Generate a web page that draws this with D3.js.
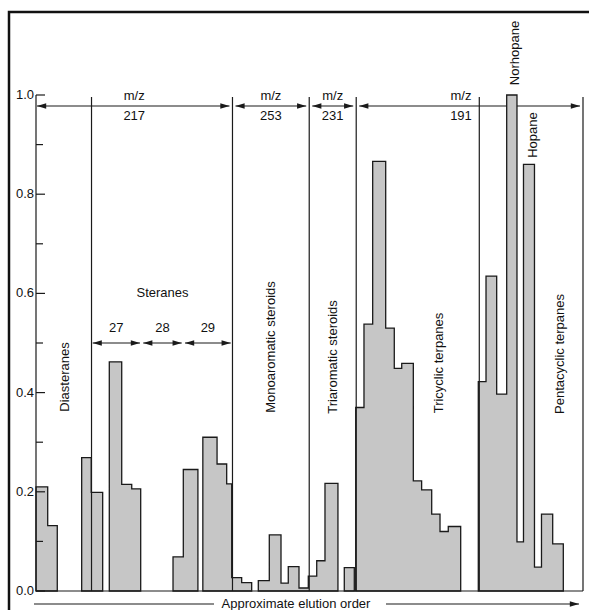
<!DOCTYPE html>
<html>
<head>
  <meta charset="utf-8" />
  <title>Biomarker elution order</title>
  <script src="https://d3js.org/d3.v7.min.js"></script>
  <style>
    body {
      margin: 0;
      background: #fff;
    }

    svg {
      display: block;
      font-family: "Liberation Sans", Arial, sans-serif;
    }

    .lbl {
      font-size: 13px;
      fill: #111;
    }

    .peak {
      fill: #c6c6c6;
      stroke: #1a1a1a;
      stroke-width: 1.3px;
    }

    .rule {
      stroke: #1a1a1a;
      stroke-width: 1.2px;
    }
  </style>
</head>
<body>

<svg width="589" height="610"></svg>

<script>
  // peaks along the elution axis (0 = first, 100 = last), relative abundance
  const peakLeft  = [0, 2.14, 8.35, 10.1, 13.4, 15.67, 17.5, 25.05, 26.93, 30.5, 33.1, 34.86,
                     35.78, 37.6, 40.64, 42.65, 44.79, 46.12, 48.08, 49.78, 51.32, 52.83, 56.36,
                     58.45, 59.96, 61.55, 63.93, 65.5, 66.86, 68.98, 70.5, 72.34, 73.86, 75.37,
                     80.86, 82.27, 84.22, 86.05, 87.93, 89.12, 91.13, 92.41, 94.46];
  const peakRight = [2.14, 3.89, 10.1, 12.19, 15.67, 17.5, 19.14, 26.93, 29.6, 33.1, 34.86, 35.78,
                     37.6, 39.43, 42.65, 44.79, 46.12, 48.08, 49.78, 51.32, 52.83, 55.2, 58.19,
                     59.96, 61.55, 63.93, 65.5, 66.86, 68.98, 70.5, 72.34, 73.86, 75.37, 77.64,
                     82.27, 84.22, 86.05, 87.93, 89.12, 91.13, 92.41, 94.46, 96.4];
  const peakValue = [0.21, 0.132, 0.269, 0.199, 0.462, 0.215, 0.206, 0.069, 0.245, 0.31, 0.256, 0.216,
                     0.027, 0.017, 0.021, 0.113, 0.016, 0.049, 0.006, 0.03, 0.061, 0.217, 0.047,
                     0.37, 0.538, 0.866, 0.53, 0.449, 0.459, 0.222, 0.204, 0.155, 0.12, 0.13,
                     0.422, 0.635, 0.397, 1.0, 0.099, 0.86, 0.048, 0.155, 0.095];

  const dividers = [10.15, 35.92, 49.95, 58.54, 81.04, 100];
  const mzStart  = [0, 35.92, 49.95, 58.54];
  const mzEnd    = [35.92, 49.95, 58.54, 100];
  const mzLabels = ["217", "253", "231", "191"];
  const carbonStart  = [10.36, 19.6, 27.24];
  const carbonEnd    = [19.01, 26.64, 35.6];
  const carbonLabels = ["27", "28", "29"];
  const yTicks = [0, 0.2, 0.4, 0.6, 0.8, 1.0];
  const yMinor = [0.1, 0.3, 0.5, 0.7, 0.9];

  const svg = d3.select("svg");
  const x = d3.scaleLinear().domain([0, 100]).range([36, 583]);
  const y = d3.scaleLinear().domain([0, 1]).range([591, 95]);

  const defs = svg.append("defs");
  defs.append("marker")
    .attr("id", "head")
    .attr("viewBox", "0 0 10 6")
    .attr("refX", 10).attr("refY", 3)
    .attr("markerWidth", 10).attr("markerHeight", 5.5)
    .attr("markerUnits", "userSpaceOnUse")
    .attr("orient", "auto-start-reverse")
    .append("path").attr("d", "M0,0 L10,3 L0,6 Z").attr("fill", "#1a1a1a");

  // frame
  svg.append("path")
    .attr("d", "M9,610 V12 H589")
    .attr("fill", "none").attr("stroke", "#111").attr("stroke-width", 2.5);

  // m/z arrows
  const mzY = 106;
  mzStart.forEach((s, i) => {
    svg.append("line").attr("class", "rule")
      .attr("x1", x(s) + (i ? 3 : 1)).attr("x2", x(mzEnd[i]) - 3)
      .attr("y1", mzY).attr("y2", mzY)
      .attr("marker-start", "url(#head)").attr("marker-end", "url(#head)");
    const cx = i === 3 ? 461 : (x(s) + x(mzEnd[i])) / 2;
    svg.append("text").attr("class", "lbl").attr("text-anchor", "middle")
      .attr("x", cx).attr("y", mzY - 6).text("m/z");
    svg.append("text").attr("class", "lbl").attr("text-anchor", "middle")
      .attr("x", cx).attr("y", mzY + 14).text(mzLabels[i]);
  });

  // sterane carbon number arrows
  const cY = 343;
  carbonStart.forEach((s, i) => {
    svg.append("line").attr("class", "rule")
      .attr("x1", x(s)).attr("x2", x(carbonEnd[i]))
      .attr("y1", cY).attr("y2", cY)
      .attr("marker-start", "url(#head)").attr("marker-end", "url(#head)");
    svg.append("text").attr("class", "lbl").attr("text-anchor", "middle")
      .attr("x", (x(s) + x(carbonEnd[i])) / 2).attr("y", cY - 11).text(carbonLabels[i]);
  });
  svg.append("text").attr("class", "lbl").attr("text-anchor", "middle")
    .attr("x", 162.5).attr("y", 297).text("Steranes");

  // group touching peaks into step outlines
  const runs = [];
  peakLeft.forEach((l, i) => {
    const p = { l, r: peakRight[i], v: peakValue[i] };
    const last = runs[runs.length - 1];
    if (last && Math.abs(last[last.length - 1].r - l) < 0.01) last.push(p);
    else runs.push([p]);
  });

  const line = d3.line().x(d => x(d[0])).y(d => y(d[1]));
  svg.selectAll(".peak")
    .data(runs)
    .join("path")
    .attr("class", "peak")
    .attr("d", run => {
      const pts = [[run[0].l, 0]];
      run.forEach(p => { pts.push([p.l, p.v]); pts.push([p.r, p.v]); });
      pts.push([run[run.length - 1].r, 0]);
      return line(pts) + "Z";
    });

  // vertical section dividers
  svg.selectAll(".div")
    .data(dividers)
    .join("line")
    .attr("class", "rule")
    .attr("x1", d => x(d)).attr("x2", d => x(d))
    .attr("y1", 97).attr("y2", y(0));

  // axes
  svg.append("line").attr("class", "rule")
    .attr("x1", x(0)).attr("x2", x(100)).attr("y1", y(0)).attr("y2", y(0));
  svg.append("line").attr("class", "rule")
    .attr("x1", x(0)).attr("x2", x(0)).attr("y1", y(1)).attr("y2", y(0));
  svg.selectAll(".tk")
    .data(yTicks)
    .join("line").attr("class", "rule")
    .attr("x1", x(0)).attr("x2", x(0) + 9)
    .attr("y1", d => y(d)).attr("y2", d => y(d));
  svg.selectAll(".mtk")
    .data(yMinor)
    .join("line").attr("class", "rule")
    .attr("x1", x(0)).attr("x2", x(0) + 7)
    .attr("y1", d => y(d)).attr("y2", d => y(d));
  svg.selectAll(".ytl")
    .data(yTicks)
    .join("text").attr("class", "lbl")
    .attr("text-anchor", "end")
    .attr("x", 34).attr("y", d => y(d) + 4)
    .text(d => d3.format(".1f")(d));

  // rotated compound class labels
  const vlabels = [
    ["Diasteranes", 64, 377],
    ["Monoaromatic steroids", 270, 347],
    ["Triaromatic steroids", 332, 357],
    ["Tricyclic terpanes", 438, 363],
    ["Pentacyclic terpanes", 559, 354],
    ["Norhopane", 514, 53],
    ["Hopane", 532, 135]
  ];
  vlabels.forEach(([t, cx, cy]) => {
    svg.append("text").attr("class", "lbl")
      .attr("text-anchor", "middle").attr("dominant-baseline", "central")
      .attr("transform", `translate(${cx},${cy}) rotate(-90)`)
      .text(t);
  });

  // elution order arrow
  svg.append("line").attr("class", "rule")
    .attr("x1", 34).attr("x2", 214).attr("y1", 604).attr("y2", 604);
  svg.append("line").attr("class", "rule")
    .attr("x1", 386).attr("x2", 579).attr("y1", 604).attr("y2", 604)
    .attr("marker-end", "url(#head)");
  svg.append("text").attr("class", "lbl").attr("text-anchor", "middle")
    .attr("x", 296).attr("y", 608).text("Approximate elution order");
</script>

</body>
</html>
